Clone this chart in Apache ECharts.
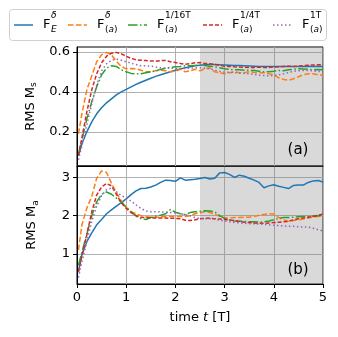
<!DOCTYPE html>
<html>
<head>
<meta charset="utf-8">
<script src="https://cdn.jsdelivr.net/npm/echarts@6/dist/echarts.min.js"></script>
<style>
html, body { margin: 0; padding: 0; background: #fff; }
#main { width: 338px; height: 337px; }
</style>
</head>
<body>
<div id="main"></div>
<script>
// time axis shared by every curve [T]
var time = [0.03, 0.1, 0.2, 0.3, 0.4, 0.5, 0.6, 0.7, 0.8, 0.9,
            1.0, 1.1, 1.2, 1.3, 1.4, 1.5, 1.6, 1.7, 1.8, 1.9,
            2.0, 2.1, 2.2, 2.3, 2.4, 2.5, 2.6, 2.7, 2.8, 2.9,
            3.0, 3.1, 3.2, 3.3, 3.4, 3.5, 3.6, 3.7, 3.8, 3.9,
            4.0, 4.1, 4.2, 4.3, 4.4, 4.5, 4.6, 4.7, 4.8, 4.9, 5.0];

// (a) RMS Ms
var msE    = [0.08, 0.14, 0.20, 0.25, 0.29, 0.32, 0.345, 0.365, 0.385, 0.40,
              0.412, 0.425, 0.437, 0.448, 0.458, 0.468, 0.477, 0.485, 0.493, 0.50,
              0.508, 0.514, 0.52, 0.525, 0.53, 0.533, 0.535, 0.537, 0.536, 0.535,
              0.534, 0.533, 0.532, 0.531, 0.53, 0.529, 0.528, 0.527, 0.527, 0.526,
              0.526, 0.526, 0.527, 0.527, 0.526, 0.527, 0.527, 0.528, 0.527, 0.528, 0.527];
var msD    = [0.19, 0.29, 0.41, 0.48, 0.55, 0.585, 0.597, 0.585, 0.553, 0.527,
              0.515, 0.516, 0.515, 0.508, 0.50, 0.50, 0.505, 0.508, 0.505, 0.50,
              0.503, 0.513, 0.50, 0.505, 0.513, 0.505, 0.515, 0.52, 0.50, 0.495,
              0.49, 0.495, 0.50, 0.495, 0.495, 0.50, 0.497, 0.495, 0.495, 0.49,
              0.485, 0.47, 0.462, 0.458, 0.465, 0.475, 0.485, 0.49, 0.49, 0.485, 0.482];
var ms16   = [0.09, 0.16, 0.265, 0.35, 0.425, 0.485, 0.518, 0.53, 0.527, 0.51,
              0.50, 0.492, 0.49, 0.49, 0.495, 0.50, 0.505, 0.512, 0.518, 0.522,
              0.525, 0.527, 0.53, 0.53, 0.532, 0.533, 0.532, 0.528, 0.525, 0.52,
              0.515, 0.512, 0.51, 0.51, 0.508, 0.507, 0.506, 0.503, 0.50, 0.50,
              0.503, 0.507, 0.505, 0.51, 0.513, 0.515, 0.514, 0.512, 0.51, 0.512, 0.51];
var ms4    = [0.08, 0.17, 0.30, 0.41, 0.49, 0.545, 0.578, 0.593, 0.597, 0.59,
              0.578, 0.567, 0.56, 0.558, 0.556, 0.554, 0.553, 0.556, 0.557, 0.55,
              0.546, 0.542, 0.538, 0.54, 0.545, 0.546, 0.542, 0.54, 0.537, 0.532,
              0.528, 0.527, 0.525, 0.524, 0.523, 0.522, 0.522, 0.523, 0.522, 0.522,
              0.524, 0.525, 0.527, 0.528, 0.527, 0.529, 0.531, 0.533, 0.534, 0.535, 0.536];
var ms1    = [0.06, 0.13, 0.235, 0.34, 0.435, 0.505, 0.54, 0.558, 0.563, 0.558,
              0.55, 0.543, 0.536, 0.53, 0.53, 0.528, 0.524, 0.52, 0.519, 0.518,
              0.517, 0.517, 0.517, 0.518, 0.52, 0.52, 0.518, 0.515, 0.508, 0.502,
              0.498, 0.497, 0.496, 0.493, 0.492, 0.49, 0.487, 0.483, 0.481, 0.48,
              0.482, 0.485, 0.49, 0.497, 0.502, 0.505, 0.507, 0.507, 0.505, 0.502, 0.50];

// (b) RMS Ma
var maE    = [0.55, 0.97, 1.32, 1.55, 1.76, 1.9, 2.05, 2.15, 2.25, 2.34,
              2.44, 2.55, 2.65, 2.71, 2.72, 2.75, 2.8, 2.87, 2.93, 2.92,
              2.9, 2.99, 2.93, 2.94, 2.95, 2.97, 3.0, 2.96, 2.98, 3.12,
              3.13, 3.08, 3.0, 3.06, 3.03, 2.98, 2.93, 2.87, 2.73, 2.78,
              2.81, 2.77, 2.74, 2.71, 2.79, 2.8, 2.8, 2.87, 2.91, 2.92, 2.88];
var maD    = [1.1, 1.76, 2.2, 2.5, 2.98, 3.17, 3.13, 2.85, 2.6, 2.39,
              2.22, 2.1, 2.05, 2.0, 1.97, 1.96, 1.96, 1.97, 1.98, 1.98,
              1.98, 1.98, 1.98, 2.0, 2.05, 2.07, 2.11, 2.08, 2.04, 1.98,
              1.94, 1.94, 1.95, 1.95, 1.96, 1.96, 1.98, 2.01, 2.03, 2.05,
              2.04, 1.95, 1.89, 1.85, 1.87, 1.89, 1.91, 1.94, 1.96, 1.98, 2.0];
var ma16   = [0.7, 1.05, 1.52, 2.0, 2.36, 2.56, 2.62, 2.56, 2.46, 2.36,
              2.22, 2.1, 1.99, 1.92, 1.9, 1.95, 1.99, 2.01, 2.05, 2.16,
              2.09, 2.05, 2.03, 2.08, 2.1, 2.11, 2.13, 2.12, 2.1, 2.0,
              1.93, 1.89, 1.86, 1.85, 1.85, 1.84, 1.84, 1.83, 1.84, 1.86,
              1.89, 1.93, 1.95, 1.95, 1.96, 1.97, 1.98, 1.98, 1.99, 2.0, 2.0];
var ma4    = [0.52, 0.95, 1.5, 2.1, 2.54, 2.75, 2.84, 2.78, 2.56, 2.34,
              2.19, 2.08, 2.0, 1.96, 1.95, 1.94, 1.94, 1.94, 1.94, 1.93,
              1.93, 1.92, 1.88, 1.87, 1.89, 1.92, 1.93, 1.93, 1.92, 1.91,
              1.9, 1.89, 1.87, 1.85, 1.83, 1.82, 1.81, 1.8, 1.8, 1.81,
              1.82, 1.83, 1.84, 1.85, 1.89, 1.92, 1.94, 1.96, 1.98, 2.01, 2.04];
var ma1    = [0.38, 0.8, 1.33, 1.85, 2.25, 2.52, 2.68, 2.72, 2.63, 2.52,
              2.47, 2.38, 2.28, 2.19, 2.12, 2.1, 2.1, 2.1, 2.09, 2.08,
              2.07, 2.05, 2.03, 2.0, 1.95, 1.93, 1.92, 1.92, 1.91, 1.88,
              1.86, 1.84, 1.82, 1.81, 1.8, 1.79, 1.79, 1.78, 1.77, 1.76,
              1.75, 1.74, 1.73, 1.72, 1.72, 1.71, 1.7, 1.7, 1.67, 1.63, 1.6];

var shade = [2.5, 5];
var xTicks = [0, 1, 2, 3, 4, 5];
var msTicks = [0.2, 0.4, 0.6];
var maTicks = [1, 2, 3];
var supText = ['δ', 'δ', '1/16T', '1/4T', '1T'];

var chart = echarts.init(document.getElementById('main'));
var font = 'DejaVu Sans';
var colors = ['#1f77b4', '#ff7f0e', '#2ca02c', '#d62728', '#9467bd'];
var dashes = ['solid', [5.5, 2.4], [9.6, 2.4, 1.5, 2.4], [4, 2], [1.5, 2.5]];
var msSets = [msE, msD, ms16, ms4, ms1];
var maSets = [maE, maD, ma16, ma4, ma1];

function pairs(vals) {
  return time.map(function (x, i) { return [x, vals[i]]; });
}

function xAxisFor(idx, labels) {
  return {
    type: 'value', gridIndex: idx, min: 0, max: 5, interval: 1,
    axisLine: { show: true, onZero: false, lineStyle: { color: '#000', width: 1 } },
    axisTick: { show: labels, length: 4, lineStyle: { color: '#000' } },
    axisLabel: { show: labels, color: '#000', fontFamily: font, fontSize: 13, margin: 7 },
    splitLine: { show: true, lineStyle: { color: '#b0b0b0', width: 1 } },
    name: labels ? 'time {i|t} [T]' : '', nameLocation: 'middle', nameGap: 27,
    nameTextStyle: {
      color: '#000', fontFamily: font, fontSize: 13,
      rich: { i: { fontFamily: font, fontSize: 13, fontStyle: 'italic', color: '#000' } }
    }
  };
}

function yAxisFor(idx, min, max, ticks, name, fmt) {
  return {
    type: 'value', gridIndex: idx, min: min, max: max,
    axisLine: { show: true, lineStyle: { color: '#000', width: 1 } },
    axisTick: { show: true, length: 4, customValues: ticks, lineStyle: { color: '#000' } },
    axisLabel: { color: '#000', fontFamily: font, fontSize: 13, margin: 7, customValues: ticks,
                 formatter: fmt },
    splitLine: { show: true, lineStyle: { color: '#b0b0b0', width: 1 } },
    name: name, nameLocation: 'middle', nameGap: 37, nameRotate: 90,
    nameTextStyle: {
      color: '#000', fontFamily: font, fontSize: 13,
      rich: {
        m: { fontFamily: font, fontSize: 13, color: '#000', lineHeight: 16 },
        s: { fontFamily: font, fontSize: 9, color: '#000', lineHeight: 10, verticalAlign: 'bottom' }
      }
    }
  };
}

var series = [];
[0, 1].forEach(function (p) {
  series.push({
    type: 'line', xAxisIndex: p, yAxisIndex: p, data: [], z: 1, silent: true,
    markArea: {
      silent: true,
      itemStyle: { color: 'rgba(128,128,128,0.3)' },
      data: [[{ xAxis: shade[0] }, { xAxis: shade[1] }]]
    }
  });
  var sets = p === 0 ? msSets : maSets;
  sets.forEach(function (vals, k) {
    series.push({
      type: 'line', xAxisIndex: p, yAxisIndex: p, z: 3 + k,
      data: pairs(vals), showSymbol: false, symbol: 'none', smooth: false,
      lineStyle: { color: colors[k], width: 1.5, type: dashes[k] },
      animation: false
    });
  });
});

// legend drawn by hand so the stacked scripts sit like mathtext
var legendX = [14, 68, 128, 203, 273];
var graphics = [{
  type: 'rect', shape: { x: 9.5, y: 9.5, width: 317, height: 31, r: 3 },
  style: { fill: '#fff', stroke: '#d0d0d0', lineWidth: 1 }, z: 10
}];
legendX.forEach(function (lx, k) {
  graphics.push({
    type: 'line', shape: { x1: lx, y1: 25, x2: lx + 19, y2: 25 }, z: 11,
    style: { stroke: colors[k], lineWidth: 1.5, lineDash: dashes[k] === 'solid' ? null : dashes[k] }
  });
  graphics.push({
    type: 'text', x: lx + 29, y: 25, z: 11,
    style: { text: 'F', fontFamily: font, fontSize: 13, fill: '#000', verticalAlign: 'middle' }
  });
  graphics.push({
    type: 'text', x: lx + 37, y: 16, z: 11,
    style: { text: supText[k], fontFamily: font, fontSize: 9, fill: '#000', verticalAlign: 'middle',
             fontStyle: k < 2 ? 'italic' : 'normal' }
  });
  graphics.push({
    type: 'text', x: lx + 37, y: 30, z: 11,
    style: {
      text: k === 0 ? '{i|E}' : '{n|(}{i|a}{n|)}', verticalAlign: 'middle',
      rich: {
        n: { fontFamily: font, fontSize: 9, fill: '#000' },
        i: { fontFamily: font, fontSize: 9, fontStyle: 'italic', fill: '#000' }
      }
    }
  });
});
graphics.push({
  type: 'text', x: 298, y: 150, z: 11,
  style: { text: '(a)', fontFamily: font, fontSize: 15, fill: '#000', align: 'center', verticalAlign: 'middle' }
});
graphics.push({
  type: 'text', x: 298, y: 270, z: 11,
  style: { text: '(b)', fontFamily: font, fontSize: 15, fill: '#000', align: 'center', verticalAlign: 'middle' }
});

chart.setOption({
  animation: false,
  backgroundColor: '#fff',
  grid: [
    { left: 77, top: 47, width: 246, height: 119, show: true, borderColor: '#000', borderWidth: 1, backgroundColor: 'transparent' },
    { left: 77, top: 166, width: 246, height: 118, show: true, borderColor: '#000', borderWidth: 1, backgroundColor: 'transparent' }
  ],
  xAxis: [xAxisFor(0, false), xAxisFor(1, true)],
  yAxis: [
    yAxisFor(0, 0.029, 0.624, msTicks, '{m|RMS M}{s|s}', function (v) { return v.toFixed(1); }),
    yAxisFor(1, 0.21, 3.3, maTicks, '{m|RMS M}{s|a}', function (v) { return String(v); })
  ],
  series: series,
  graphic: graphics
});
</script>
</body>
</html>
